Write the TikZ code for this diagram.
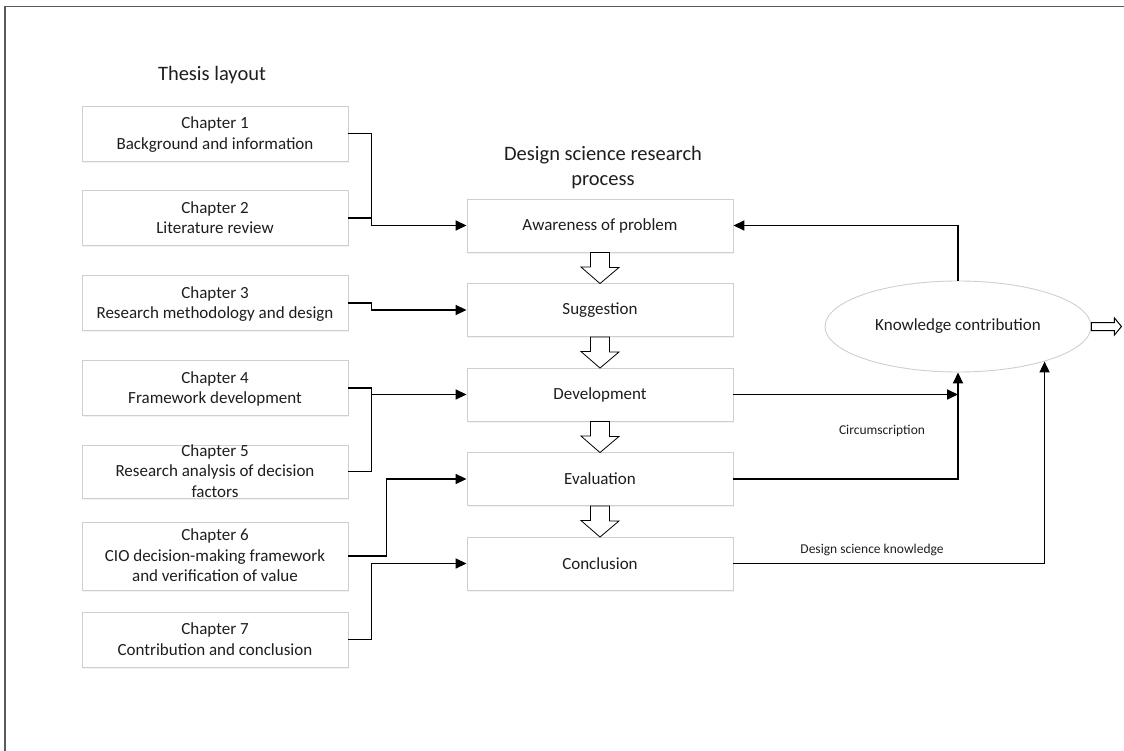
\documentclass[tikz,border=0pt]{standalone}
\usepackage{fontspec}
\setmainfont{Carlito}
\usetikzlibrary{arrows.meta,shapes.geometric,calc,shadows}

\definecolor{boxline}{HTML}{CFCFCF}
\definecolor{inkc}{HTML}{1E1E1E}
\definecolor{framec}{HTML}{5A5A5A}

% multi-line text whose height does not enlarge its box
\newcommand{\boxtext}[1]{\smash{\raisebox{-5.5pt}{\begin{tabular}{@{}c@{}}#1\end{tabular}}}}

\tikzset{
  blockbox/.style={draw=boxline, line width=0.9pt, fill=white,
    minimum width=266pt, minimum height=#1, inner sep=0pt,
    text=inkc, font=\fontsize{17}{20.5}\selectfont,
    drop shadow={shadow xshift=1.2pt, shadow yshift=-1.8pt, opacity=0.10}},
  blockbox/.default=55pt,
  conn/.style={draw=black, line width=1.7pt, line join=miter},
  tipconn/.style={conn, -{Triangle[length=11pt,width=10pt]}},
  hollow/.style={draw=black, line width=0.8pt, fill=white, line join=miter},
  title/.style={text=inkc, font=\fontsize{20.5}{25}\selectfont, align=center},
  smalllabel/.style={text=inkc, font=\fontsize{13.5}{16}\selectfont}
}

\begin{document}
\begin{tikzpicture}[x=1pt,y=-1pt]
  \useasboundingbox (0,0) rectangle (1124,751);

  % page frame
  \draw[framec, line width=1.5pt] (1124,6.5) -- (5,6.5) -- (5,751);

  % headings
  \node[title] (thtitle) at (212,75) {Thesis layout};
  \node[title] (dsrtitle) at (603,168) {Design science research\\process};

  % thesis chapters
  \node[blockbox] (ch1) at (215,133.5) {\boxtext{Chapter 1\\Background and information}};
  \node[blockbox] (ch2) at (215,218)   {\boxtext{Chapter 2\\Literature review}};
  \node[blockbox] (ch3) at (215,303)   {\boxtext{Chapter 3\\Research methodology and design}};
  \node[blockbox] (ch4) at (215,388)   {\boxtext{Chapter 4\\Framework development}};
  \node[blockbox=53pt] (ch5) at (215,471.5) {\boxtext{Chapter 5\\Research analysis of decision\\factors}};
  \node[blockbox=68pt] (ch6) at (215,556) {\boxtext{Chapter 6\\CIO decision-making framework\\and verification of value}};
  \node[blockbox] (ch7) at (215,639.5) {\boxtext{Chapter 7\\Contribution and conclusion}};

  % design science research steps
  \node[blockbox=53pt] (aw)  at (600,225.5) {Awareness of problem};
  \node[blockbox=53pt] (sug) at (600,310)   {Suggestion};
  \node[blockbox=53pt] (dev) at (600,394.5) {Development};
  \node[blockbox=53pt] (ev)  at (600,479)   {Evaluation};
  \node[blockbox=53pt] (con) at (600,563.5) {Conclusion};

  % knowledge contribution
  \node[ellipse, draw=boxline, line width=0.9pt, fill=white,
        minimum width=266pt, minimum height=91pt, inner sep=0pt,
        text=inkc, font=\fontsize{17}{20.5}\selectfont] (kc) at (958,326.5) {Knowledge contribution};

  % hollow arrows between steps
  \foreach \a/\b in {aw/sug, sug/dev, dev/ev, ev/con}
    \draw[hollow] ($(\a.south)+(-9.5,0)$) -- ++(19,0) -- ++(0,15) -- ++(9.5,0)
      -- ($(\b.north)+(0,0.5)$) -- ++(-19,-16.5) -- ++(9.5,0) -- cycle;

  % outgoing hollow arrow
  \draw[hollow, line width=1pt] ($(kc.east)+(0,-4)$) -- ++(23,0) -- ++(0,-4.5)
    -- ++(7,8.5) -- ++(-7,8.5) -- ++(0,-4.5) -- ++(-23,0) -- cycle;

  % chapters to steps
  \coordinate (j1) at ($(ch1.east)+(23,0)$);
  \draw[tipconn] (ch1.east) -- (j1) |- (aw.west);
  \draw[conn] (ch2.east) -- (j1 |- ch2.east);

  \draw[tipconn] (ch3.east) -- ++(23,0) |- (sug.west);

  \coordinate (j4) at ($(ch4.east)+(23,0)$);
  \draw[conn] (ch4.east) -- (j4) |- (ch5.east);
  \draw[tipconn] (j4 |- dev.west) -- (dev.west);

  \draw[tipconn] (ch6.east) -- ++(38,0) |- (ev.west);

  \draw[tipconn] (ch7.east) -- ++(23,0) |- (con.west);

  % steps to knowledge contribution
  \draw[tipconn] (dev.east) -- (kc.south |- dev.east);
  \draw[tipconn] (ev.east) -| (kc.south);
  \draw[tipconn] (con.east) -| (kc.338);
  \draw[tipconn] (kc.north) |- (aw.east);

  % connector labels
  \node[smalllabel] (circ) at (882,431) {Circumscription};
  \node[smalllabel] (dsk) at (872,550) {Design science knowledge};
\end{tikzpicture}
\end{document}
